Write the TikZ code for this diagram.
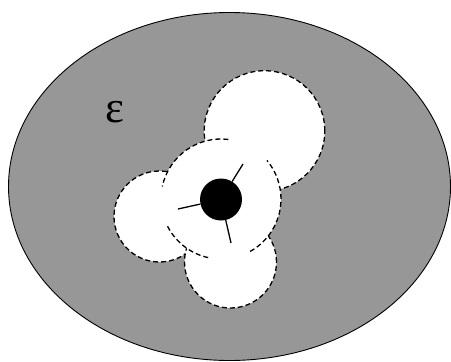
\documentclass[tikz,border=0pt]{standalone}
\usepackage{fontspec}
\newfontfamily\greekfont{Liberation Serif}
\definecolor{fieldgray}{RGB}{151,151,151}

\begin{document}
\begin{tikzpicture}[x=1pt,y=-1pt]
\tikzset{hole/.style={fill=white,draw=black,line width=1.3pt,dash pattern=on 5pt off 3pt}}
\tikzset{holeedge/.style={draw=black,line width=1.3pt,dash pattern=on 5pt off 3pt}}
\tikzset{spoke/.style={draw=black,line width=1.3pt}}
\useasboundingbox (0,0) rectangle (451,362);
% outer region
\draw[fill=fieldgray,line width=0.9pt] (229.5,186.5) ellipse [x radius=221pt,y radius=174pt];
\node[font=\greekfont\fontsize{45}{45}\selectfont,inner sep=0pt] (eps) at (115,112) {ε};
% side holes
\foreach \cx/\cy/\r in {264.5/131/60.3, 159.5/216.5/45.5, 230.5/262/46} {
  \draw[hole] (\cx,\cy) circle [radius=\r pt];
}
% central hole on top, its outline broken where it crosses the others
\coordinate (cc) at (221,199);
\fill[white] (cc) circle [radius=60pt];
\foreach \a/\b in {83/168, 207/259, -61/40} {
  \draw[holeedge] ([shift={(\a:60pt)}]cc) arc [start angle=\a, end angle=\b, radius=60pt];
}
% centre with spokes
\node[circle,fill=black,minimum size=42pt,inner sep=0pt] (core) at (221,199.5) {};
\coordinate (sa) at (243,164);
\coordinate (sb) at (178,209);
\coordinate (sc) at (231,243);
\draw[spoke] (core) -- (sa);
\draw[spoke] (core) -- (sb);
\draw[spoke] (core) -- (sc);
\end{tikzpicture}
\end{document}
